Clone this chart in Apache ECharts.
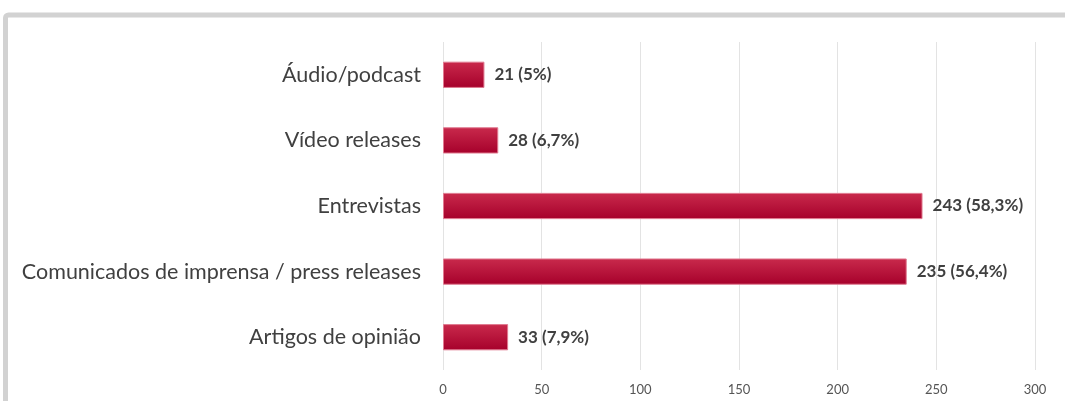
<!DOCTYPE html>
<html><head><meta charset="utf-8">
<script src="https://cdn.jsdelivr.net/npm/echarts@6/dist/echarts.min.js"></script>
<style>html,body{margin:0;padding:0;background:#fff}#c{width:1065px;height:401px}</style>
</head><body><div id="c"></div>
<script>
const categories = ['Artigos de opinião','Comunicados de imprensa / press releases','Entrevistas','Vídeo releases','Áudio/podcast'];
const values = [33, 235, 243, 28, 21];
const percents = ['7,9%','56,4%','58,3%','6,7%','5%'];
const xTicks = [0, 50, 100, 150, 200, 250, 300];

const chart = echarts.init(document.getElementById('c'));
chart.setOption({
  animation: false,
  graphic: [{
    type: 'rect', shape: {x: 5.5, y: 15, width: 1200, height: 500, r: 3},
    style: {fill: 'none', stroke: '#d2d2d2', lineWidth: 5}, z: -1
  }],
  grid: {left: 443, right: 30, top: 42, bottom: 31, containLabel: false},
  xAxis: {
    type: 'value', min: 0, max: 300, interval: 50,
    axisLine: {show: false}, axisTick: {show: false},
    splitLine: {lineStyle: {color: '#e3e3e3', width: 1}},
    axisLabel: {color: '#555', fontSize: 13, fontFamily: 'Lato', margin: 13}
  },
  yAxis: {
    type: 'category', data: categories,
    axisLine: {show: false}, axisTick: {show: false},
    axisLabel: {color: '#404040', fontSize: 21.5, fontFamily: 'Lato', margin: 22}
  },
  series: [{
    type: 'bar', data: values, barWidth: '40%',
    itemStyle: {
      color: new echarts.graphic.LinearGradient(0,0,0,1,[{offset:0,color:'#c92a4c'},{offset:1,color:'#a6002b'}]),
      borderColor: '#e07a90', borderWidth: 1
    },
    label: {
      show: true, position: 'right', distance: 10,
      color: '#404040', fontWeight: 'bold', fontSize: 17, fontFamily: 'Lato',
      formatter: p => p.value + ' (' + percents[p.dataIndex] + ')'
    }
  }]
});
</script></body></html>
